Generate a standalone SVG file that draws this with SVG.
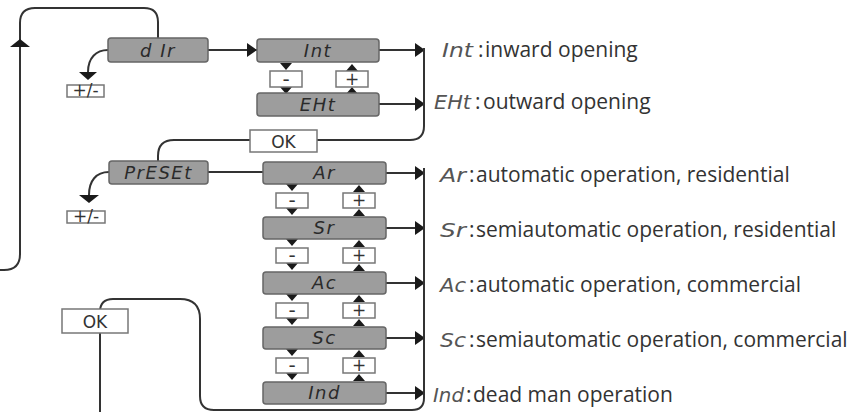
<svg xmlns="http://www.w3.org/2000/svg" width="866" height="412" viewBox="0 0 866 412">
<defs>
<style>
.box{fill:#9d9d9d;stroke:#666;stroke-width:1.5}
.btn{fill:#fff;stroke:#777;stroke-width:1.5}
.seg{font-family:"DejaVu Sans",sans-serif;font-style:italic;fill:#2a2a2a;text-anchor:middle;font-size:18px;letter-spacing:1.5px}
.pre{font-family:"DejaVu Sans",sans-serif;font-style:italic;fill:#555;font-size:19px}
.lbl{font-family:"Open Sans",sans-serif;fill:#333;font-size:21px}
.bt{font-family:"DejaVu Sans",sans-serif;fill:#333;font-size:17px;text-anchor:middle}
.mn{font-family:"DejaVu Sans",sans-serif;fill:#333;font-size:20px;text-anchor:middle}
.ln{fill:none;stroke:#333;stroke-width:2}
.tri{fill:#1a1a1a}
</style>
<marker id="arr" markerUnits="userSpaceOnUse" markerWidth="10" markerHeight="14" refX="10" refY="7" orient="auto">
<path d="M0,0 L10,7 L0,14 z" fill="#1a1a1a"/>
</marker>
<path id="td" d="M-6,0 L6,0 L0,7 z" class="tri"/>
<path id="tu" d="M-6,0 L6,0 L0,-7 z" class="tri"/>
</defs>

<g id="connectors">
<path class="ln" d="M158,38 V22 Q158,8 144,8 H35 Q20,8 20,23 V254 Q20,270 4,270 H0"/>
<path class="tri" d="M10,47 L30,47 L20,39 z"/>
<path class="ln" d="M108,50 C96,50 88,58 88,72"/>
<path class="tri" d="M79,72 L97,72 L88,80 z"/>
<path class="ln" d="M208,50 H257" marker-end="url(#arr)"/>
<path class="ln" d="M379,50 H425" marker-end="url(#arr)"/>
<path class="ln" d="M379,104 H425" marker-end="url(#arr)"/>
<path class="ln" d="M424,48 V126 Q424,140 410,140 H317"/>
<path class="ln" d="M250,140 H174 Q158,140 158,156 V161"/>
<path class="ln" d="M109,172 C96,172 89,181 89,195"/>
<path class="tri" d="M79,195 L99,195 L89,203 z"/>
<path class="ln" d="M208,172 H263"/>
<path class="ln" d="M386,173 H425" marker-end="url(#arr)"/>
<path class="ln" d="M386,228 H425" marker-end="url(#arr)"/>
<path class="ln" d="M386,283 H425" marker-end="url(#arr)"/>
<path class="ln" d="M386,338 H425" marker-end="url(#arr)"/>
<path class="ln" d="M386,393 H425" marker-end="url(#arr)"/>
<path class="ln" d="M424,168 V398 Q424,410 412,410 H214 Q200,410 200,396 V319 Q200,299 180,299 H113 Q100,299 100,312 V412"/>
<use href="#td" x="286" y="63"/>
<use href="#td" x="286" y="87"/>
<use href="#tu" x="352" y="71"/>
<use href="#tu" x="352" y="94"/>
<use href="#td" x="292" y="184"/>
<use href="#td" x="292" y="208"/>
<use href="#tu" x="359" y="192"/>
<use href="#tu" x="359" y="216"/>
<use href="#td" x="292" y="239"/>
<use href="#td" x="292" y="263"/>
<use href="#tu" x="359" y="247"/>
<use href="#tu" x="359" y="271"/>
<use href="#td" x="292" y="294"/>
<use href="#td" x="292" y="318"/>
<use href="#tu" x="359" y="302"/>
<use href="#tu" x="359" y="326"/>
<use href="#td" x="292" y="349"/>
<use href="#td" x="292" y="373"/>
<use href="#tu" x="359" y="357"/>
<use href="#tu" x="359" y="381"/>
</g>

<g id="dir">
<rect class="box" x="108" y="38" width="100" height="24" rx="3"/>
<text class="seg" x="158" y="57">d Ir</text>
</g>
<g id="pm1">
<rect class="btn" x="67" y="85" width="37" height="12"/>
<text class="bt" x="85.5" y="95.5" font-size="13">+/-</text>
</g>
<g id="int">
<rect class="box" x="257" y="39" width="122" height="23" rx="3"/>
<text class="seg" x="318" y="57">Int</text>
</g>
<g id="eht">
<rect class="box" x="257" y="93" width="122" height="23" rx="3"/>
<text class="seg" x="318" y="111">EHt</text>
</g>
<g id="minus0"><rect class="btn" x="270" y="71" width="32" height="16"/><text class="mn" x="286" y="86">-</text></g>
<g id="plus0"><rect class="btn" x="336" y="71" width="32" height="16"/><text class="bt" x="352" y="85">+</text></g>
<g id="ok1">
<rect class="btn" x="250" y="130" width="67" height="22"/>
<text class="bt" x="283.5" y="148" font-family="Open Sans, sans-serif" font-size="18">OK</text>
</g>
<g id="preset">
<rect class="box" x="109" y="161" width="99" height="23" rx="3"/>
<text class="seg" x="158.5" y="179">PrESEt</text>
</g>
<g id="pm2">
<rect class="btn" x="67" y="211" width="38" height="12"/>
<text class="bt" x="86" y="221.5" font-size="13">+/-</text>
</g>
<g id="ar"><rect class="box" x="263" y="162" width="123" height="22" rx="3"/><text class="seg" x="324.5" y="179">Ar</text></g>
<g id="sr"><rect class="box" x="263" y="217" width="123" height="22" rx="3"/><text class="seg" x="324.5" y="234">Sr</text></g>
<g id="ac"><rect class="box" x="263" y="272" width="123" height="22" rx="3"/><text class="seg" x="324.5" y="289">Ac</text></g>
<g id="sc"><rect class="box" x="263" y="327" width="123" height="22" rx="3"/><text class="seg" x="324.5" y="344">Sc</text></g>
<g id="ind"><rect class="box" x="263" y="382" width="123" height="22" rx="3"/><text class="seg" x="324.5" y="399">Ind</text></g>
<g id="minus1"><rect class="btn" x="276" y="193" width="32" height="15"/><text class="mn" x="292" y="207">-</text></g>
<g id="plus1"><rect class="btn" x="343" y="193" width="32" height="15"/><text class="bt" x="359" y="206">+</text></g>
<g id="minus2"><rect class="btn" x="276" y="248" width="32" height="15"/><text class="mn" x="292" y="262">-</text></g>
<g id="plus2"><rect class="btn" x="343" y="248" width="32" height="15"/><text class="bt" x="359" y="261">+</text></g>
<g id="minus3"><rect class="btn" x="276" y="303" width="32" height="15"/><text class="mn" x="292" y="317">-</text></g>
<g id="plus3"><rect class="btn" x="343" y="303" width="32" height="15"/><text class="bt" x="359" y="316">+</text></g>
<g id="minus4"><rect class="btn" x="276" y="358" width="32" height="15"/><text class="mn" x="292" y="372">-</text></g>
<g id="plus4"><rect class="btn" x="343" y="358" width="32" height="15"/><text class="bt" x="359" y="371">+</text></g>
<g id="ok2">
<rect class="btn" x="62" y="309" width="66" height="24"/>
<text class="bt" x="95" y="328" font-family="Open Sans, sans-serif" font-size="18">OK</text>
</g>

<g id="labels">
<text class="pre" x="442" y="57" textLength="31" lengthAdjust="spacingAndGlyphs">Int</text><text class="lbl" x="478" y="57">:<tspan x="485">inward opening</tspan></text>
<text class="pre" x="434" y="109" textLength="37" lengthAdjust="spacingAndGlyphs">EHt</text><text class="lbl" x="475" y="109">:<tspan x="483">outward opening</tspan></text>
<text class="pre" x="440" y="182" textLength="26" lengthAdjust="spacingAndGlyphs">Ar</text><text class="lbl" x="469" y="182">:<tspan x="476">automatic operation, residential</tspan></text>
<text class="pre" x="440" y="237" textLength="26" lengthAdjust="spacingAndGlyphs">Sr</text><text class="lbl" x="469" y="237">:<tspan x="476">semiautomatic operation, residential</tspan></text>
<text class="pre" x="440" y="292" textLength="26" lengthAdjust="spacingAndGlyphs">Ac</text><text class="lbl" x="469" y="292">:<tspan x="476">automatic operation, commercial</tspan></text>
<text class="pre" x="440" y="347" textLength="26" lengthAdjust="spacingAndGlyphs">Sc</text><text class="lbl" x="469" y="347">:<tspan x="476">semiautomatic operation, commercial</tspan></text>
<text class="pre" x="433" y="402" textLength="31" lengthAdjust="spacingAndGlyphs">Ind</text><text class="lbl" x="466" y="402">:<tspan x="473">dead man operation</tspan></text>
</g>
</svg>
